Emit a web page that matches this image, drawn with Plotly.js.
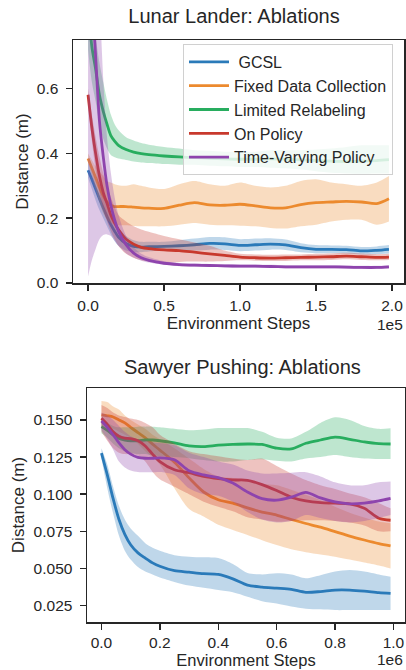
<!DOCTYPE html>
<html>
<head>
<meta charset="utf-8">
<script src="https://cdn.plot.ly/plotly-3.0.1.min.js"></script>
<style>html,body{margin:0;padding:0;background:#fff;}#chart{width:406px;height:670px;}</style>
</head>
<body>
<div id="chart"></div>
<script>
// ---------- Lunar Lander data ----------
const LL_X = [0, 2500, 5000, 7500, 10000, 12500, 15000, 17500, 20000, 25000, 30000, 35000, 40000, 50000, 60000, 70000, 80000, 90000, 100000, 110000, 120000, 130000, 140000, 150000, 160000, 170000, 180000, 190000, 198000];

const LL_GCSL = [0.348, 0.32, 0.29, 0.26, 0.232, 0.205, 0.18, 0.16, 0.142, 0.122, 0.113, 0.111, 0.112, 0.113, 0.115, 0.118, 0.122, 0.121, 0.116, 0.118, 0.12, 0.118, 0.109, 0.104, 0.104, 0.103, 0.099, 0.101, 0.104];
const LL_GCSL_LO = [0.325, 0.29, 0.255, 0.225, 0.2, 0.175, 0.15, 0.13, 0.115, 0.1, 0.095, 0.095, 0.097, 0.1, 0.1, 0.1, 0.103, 0.102, 0.098, 0.1, 0.103, 0.102, 0.095, 0.092, 0.092, 0.091, 0.088, 0.089, 0.091];
const LL_GCSL_HI = [0.37, 0.35, 0.325, 0.295, 0.265, 0.235, 0.21, 0.19, 0.17, 0.145, 0.132, 0.127, 0.127, 0.127, 0.132, 0.137, 0.142, 0.141, 0.135, 0.137, 0.138, 0.134, 0.123, 0.117, 0.116, 0.115, 0.111, 0.113, 0.117];

const LL_FIXED = [0.384, 0.355, 0.325, 0.295, 0.27, 0.25, 0.24, 0.236, 0.236, 0.236, 0.234, 0.232, 0.231, 0.23, 0.24, 0.248, 0.241, 0.24, 0.243, 0.238, 0.232, 0.232, 0.242, 0.248, 0.25, 0.252, 0.25, 0.245, 0.26];
const LL_FIXED_LO = [0.37, 0.33, 0.29, 0.25, 0.215, 0.195, 0.185, 0.18, 0.178, 0.178, 0.176, 0.175, 0.175, 0.175, 0.18, 0.185, 0.18, 0.178, 0.177, 0.175, 0.17, 0.168, 0.175, 0.18, 0.19, 0.195, 0.195, 0.18, 0.19];
const LL_FIXED_HI = [0.40, 0.38, 0.36, 0.345, 0.33, 0.315, 0.31, 0.305, 0.302, 0.30, 0.305, 0.30, 0.295, 0.29, 0.305, 0.315, 0.305, 0.30, 0.31, 0.30, 0.295, 0.30, 0.315, 0.32, 0.31, 0.305, 0.30, 0.31, 0.33];

const LL_LIMITED = [0.86, 0.73, 0.66, 0.58, 0.53, 0.49, 0.455, 0.438, 0.425, 0.412, 0.404, 0.399, 0.396, 0.392, 0.389, 0.387, 0.385, 0.383, 0.382, 0.382, 0.383, 0.382, 0.38, 0.378, 0.376, 0.375, 0.376, 0.378, 0.381];
const LL_LIMITED_LO = [0.72, 0.62, 0.56, 0.49, 0.445, 0.415, 0.395, 0.388, 0.384, 0.38, 0.375, 0.372, 0.37, 0.367, 0.365, 0.365, 0.362, 0.36, 0.358, 0.358, 0.356, 0.354, 0.35, 0.345, 0.34, 0.338, 0.337, 0.338, 0.338];
const LL_LIMITED_HI = [1.0, 0.85, 0.76, 0.68, 0.62, 0.565, 0.52, 0.49, 0.472, 0.45, 0.44, 0.432, 0.427, 0.42, 0.415, 0.41, 0.408, 0.405, 0.405, 0.405, 0.41, 0.41, 0.41, 0.412, 0.415, 0.42, 0.425, 0.425, 0.425];

const LL_ONPOL = [0.581, 0.48, 0.40, 0.33, 0.28, 0.245, 0.21, 0.185, 0.165, 0.135, 0.12, 0.11, 0.106, 0.102, 0.1, 0.095, 0.09, 0.085, 0.08, 0.078, 0.077, 0.078, 0.079, 0.08, 0.081, 0.083, 0.081, 0.079, 0.08];
const LL_ONPOL_LO = [0.56, 0.44, 0.35, 0.28, 0.23, 0.19, 0.16, 0.135, 0.115, 0.09, 0.078, 0.07, 0.066, 0.062, 0.065, 0.066, 0.066, 0.068, 0.07, 0.069, 0.068, 0.068, 0.07, 0.07, 0.071, 0.073, 0.071, 0.07, 0.071];
const LL_ONPOL_HI = [0.60, 0.52, 0.45, 0.39, 0.34, 0.30, 0.265, 0.235, 0.21, 0.19, 0.175, 0.165, 0.158, 0.145, 0.135, 0.125, 0.115, 0.10, 0.09, 0.088, 0.087, 0.088, 0.088, 0.09, 0.091, 0.093, 0.091, 0.089, 0.09];

const LL_TV = [1.1, 0.9, 0.70, 0.50, 0.39, 0.30, 0.24, 0.195, 0.16, 0.118, 0.092, 0.078, 0.07, 0.061, 0.057, 0.055, 0.054, 0.053, 0.052, 0.052, 0.051, 0.05, 0.05, 0.05, 0.05, 0.049, 0.048, 0.048, 0.05];
const LL_TV_LO = [0.02, 0.07, 0.105, 0.135, 0.148, 0.15, 0.145, 0.13, 0.115, 0.092, 0.078, 0.069, 0.063, 0.056, 0.052, 0.05, 0.049, 0.048, 0.047, 0.047, 0.046, 0.045, 0.045, 0.045, 0.045, 0.044, 0.043, 0.043, 0.045];
const LL_TV_HI = [2.2, 1.75, 1.3, 0.9, 0.63, 0.45, 0.34, 0.265, 0.21, 0.146, 0.11, 0.09, 0.08, 0.067, 0.062, 0.06, 0.059, 0.058, 0.057, 0.057, 0.056, 0.055, 0.055, 0.055, 0.055, 0.054, 0.053, 0.053, 0.055];

// ---------- Sawyer Pushing data ----------
const SP_X = [0, 20000, 40000, 60000, 80000, 100000, 125000, 150000, 175000, 200000, 250000, 300000, 350000, 400000, 450000, 500000, 550000, 600000, 650000, 700000, 750000, 800000, 850000, 900000, 950000, 990000];

const SP_GCSL = [0.1276, 0.113, 0.097, 0.083, 0.073, 0.066, 0.0605, 0.057, 0.0538, 0.0515, 0.0485, 0.0475, 0.0465, 0.046, 0.043, 0.0388, 0.0375, 0.0368, 0.036, 0.034, 0.0345, 0.0355, 0.0355, 0.0348, 0.0338, 0.0333];
const SP_GCSL_LO = [0.124, 0.104, 0.087, 0.072, 0.062, 0.056, 0.051, 0.048, 0.046, 0.044, 0.041, 0.0385, 0.037, 0.0355, 0.034, 0.031, 0.028, 0.0264, 0.0245, 0.023, 0.0225, 0.022, 0.022, 0.022, 0.022, 0.022];
const SP_GCSL_HI = [0.131, 0.12, 0.105, 0.092, 0.083, 0.077, 0.072, 0.067, 0.064, 0.062, 0.059, 0.058, 0.0575, 0.057, 0.053, 0.047, 0.046, 0.0468, 0.046, 0.0435, 0.0455, 0.048, 0.049, 0.048, 0.046, 0.0445];

const SP_FIXED = [0.1534, 0.1528, 0.152, 0.150, 0.148, 0.145, 0.1415, 0.138, 0.1337, 0.1297, 0.1215, 0.111, 0.1015, 0.0963, 0.094, 0.0908, 0.088, 0.086, 0.083, 0.0803, 0.0778, 0.0748, 0.0718, 0.0692, 0.0668, 0.0652];
const SP_FIXED_LO = [0.144, 0.1445, 0.144, 0.142, 0.14, 0.138, 0.134, 0.129, 0.125, 0.12, 0.104, 0.09, 0.085, 0.0795, 0.076, 0.0726, 0.069, 0.0658, 0.063, 0.061, 0.0595, 0.058, 0.056, 0.054, 0.052, 0.05];
const SP_FIXED_HI = [0.1628, 0.162, 0.159, 0.157, 0.153, 0.15, 0.147, 0.144, 0.14, 0.137, 0.131, 0.124, 0.117, 0.112, 0.111, 0.109, 0.107, 0.106, 0.103, 0.0996, 0.096, 0.0916, 0.0876, 0.0844, 0.0816, 0.0804];

const SP_LIMITED = [0.1455, 0.143, 0.14, 0.1375, 0.1365, 0.136, 0.136, 0.1365, 0.1365, 0.136, 0.1345, 0.1325, 0.132, 0.133, 0.1335, 0.1338, 0.1335, 0.131, 0.1305, 0.1343, 0.1365, 0.1384, 0.137, 0.1352, 0.134, 0.1338];
const SP_LIMITED_LO = [0.141, 0.138, 0.134, 0.131, 0.129, 0.128, 0.127, 0.127, 0.126, 0.1255, 0.125, 0.1242, 0.123, 0.122, 0.122, 0.123, 0.1235, 0.1225, 0.122, 0.124, 0.125, 0.1264, 0.125, 0.124, 0.1237, 0.1237];
const SP_LIMITED_HI = [0.15, 0.148, 0.146, 0.145, 0.145, 0.145, 0.1455, 0.1455, 0.1455, 0.145, 0.144, 0.143, 0.1435, 0.1445, 0.1445, 0.1445, 0.142, 0.138, 0.1375, 0.142, 0.148, 0.1518, 0.15, 0.146, 0.144, 0.1444];

const SP_ONPOL = [0.1511, 0.147, 0.142, 0.139, 0.1378, 0.1375, 0.136, 0.1325, 0.127, 0.122, 0.1165, 0.1145, 0.112, 0.1105, 0.1096, 0.1094, 0.1065, 0.1025, 0.098, 0.0955, 0.0943, 0.094, 0.0935, 0.0905, 0.0838, 0.0825];
const SP_ONPOL_LO = [0.142, 0.136, 0.131, 0.128, 0.127, 0.127, 0.126, 0.122, 0.115, 0.11, 0.105, 0.1, 0.095, 0.0915, 0.0885, 0.0845, 0.083, 0.0815, 0.082, 0.0825, 0.0825, 0.082, 0.081, 0.079, 0.075, 0.075];
const SP_ONPOL_HI = [0.16, 0.158, 0.155, 0.153, 0.152, 0.151, 0.15, 0.148, 0.145, 0.14, 0.134, 0.129, 0.127, 0.1255, 0.124, 0.123, 0.124, 0.119, 0.114, 0.1095, 0.106, 0.1035, 0.1005, 0.098, 0.094, 0.0905];

const SP_TV = [0.1493, 0.145, 0.14, 0.1345, 0.13, 0.127, 0.1248, 0.1242, 0.1242, 0.1245, 0.1232, 0.1158, 0.113, 0.1112, 0.1075, 0.1015, 0.097, 0.096, 0.098, 0.1013, 0.0975, 0.0948, 0.0935, 0.094, 0.0955, 0.0972];
const SP_TV_LO = [0.143, 0.137, 0.13, 0.122, 0.118, 0.116, 0.115, 0.1148, 0.1148, 0.115, 0.113, 0.104, 0.1, 0.099, 0.095, 0.088, 0.083, 0.081, 0.082, 0.086, 0.084, 0.082, 0.081, 0.082, 0.084, 0.086];
const SP_TV_HI = [0.155, 0.153, 0.15, 0.146, 0.142, 0.139, 0.137, 0.136, 0.135, 0.1345, 0.133, 0.128, 0.125, 0.122, 0.12, 0.116, 0.114, 0.114, 0.1145, 0.1148, 0.112, 0.108, 0.106, 0.106, 0.108, 0.1085];

// ---------- labels ----------
const SERIES_NAMES = ['\u00a0GCSL', 'Fixed Data Collection', 'Limited Relabeling', 'On Policy', 'Time-Varying Policy'];
const COLORS = ['42,122,185', '236,138,46', '40,173,95', '200,57,45', '142,68,173'];

const LL_XTICKS = [0, 50000, 100000, 150000, 200000];
const LL_XTICKTEXT = ['0.0', '0.5', '1.0', '1.5', '2.0'];
const LL_YTICKS = [0, 0.2, 0.4, 0.6];
const LL_YTICKTEXT = ['0.0', '0.2', '0.4', '0.6'];
const SP_XTICKS = [0, 200000, 400000, 600000, 800000, 1000000];
const SP_XTICKTEXT = ['0.0', '0.2', '0.4', '0.6', '0.8', '1.0'];
const SP_YTICKS = [0.025, 0.05, 0.075, 0.1, 0.125, 0.15];
const SP_YTICKTEXT = ['0.025', '0.050', '0.075', '0.100', '0.125', '0.150'];

const TITLE_LL = 'Lunar Lander: Ablations';
const TITLE_SP = 'Sawyer Pushing: Ablations';
const XLABEL = 'Environment Steps';
const YLABEL = 'Distance (m)';

// ---------- build ----------
const FONT = 'Liberation Sans, Arial, sans-serif';
const INK = '#262626';
const traces = [];

function addSeries(x, mean, lo, hi, i, xa, ya, legend) {
  const c = COLORS[i];
  traces.push({x: x, y: hi, mode: 'lines', line: {width: 0, shape: 'spline', smoothing: 0.8, color: 'rgba(' + c + ',0)'},
    showlegend: false, hoverinfo: 'skip', xaxis: xa, yaxis: ya});
  traces.push({x: x, y: lo, mode: 'lines', line: {width: 0, shape: 'spline', smoothing: 0.8, color: 'rgba(' + c + ',0)'},
    fill: 'tonexty', fillcolor: 'rgba(' + c + ',0.3)', showlegend: false, hoverinfo: 'skip', xaxis: xa, yaxis: ya});
  traces.push({x: x, y: mean, mode: 'lines', name: SERIES_NAMES[i], line: {width: 2.8, shape: 'spline', smoothing: 0.8, color: 'rgb(' + c + ')'},
    showlegend: legend, xaxis: xa, yaxis: ya});
}

const LL = [[LL_GCSL, LL_GCSL_LO, LL_GCSL_HI], [LL_FIXED, LL_FIXED_LO, LL_FIXED_HI], [LL_LIMITED, LL_LIMITED_LO, LL_LIMITED_HI],
            [LL_ONPOL, LL_ONPOL_LO, LL_ONPOL_HI], [LL_TV, LL_TV_LO, LL_TV_HI]];
const SP = [[SP_GCSL, SP_GCSL_LO, SP_GCSL_HI], [SP_FIXED, SP_FIXED_LO, SP_FIXED_HI], [SP_LIMITED, SP_LIMITED_LO, SP_LIMITED_HI],
            [SP_ONPOL, SP_ONPOL_LO, SP_ONPOL_HI], [SP_TV, SP_TV_LO, SP_TV_HI]];
LL.forEach((s, i) => addSeries(LL_X, s[0], s[1], s[2], i, 'x', 'y', true));
SP.forEach((s, i) => addSeries(SP_X, s[0], s[1], s[2], i, 'x2', 'y2', false));

const TICKFONT = {family: FONT, size: 15.5, color: INK};
const LABELFONT = {family: FONT, size: 17, color: INK};
function axis(extra) {
  return Object.assign({
    showgrid: false, zeroline: false, showline: true, mirror: true, linecolor: INK, linewidth: 1.5,
    ticks: 'outside', ticklen: 6, tickwidth: 1.5, tickcolor: INK, tickmode: 'array',
    tickfont: TICKFONT, automargin: false, fixedrange: true
  }, extra);
}

const W = 406, H = 670;
const layout = {
  width: W, height: H, margin: {l: 0, r: 0, t: 0, b: 0}, paper_bgcolor: '#fff', plot_bgcolor: '#fff',
  font: {family: FONT, color: INK},
  title: {text: TITLE_LL, font: {family: FONT, size: 20, color: INK}, x: 234 / W, xanchor: 'center', y: 1 - 16 / H, yanchor: 'middle', xref: 'paper', yref: 'paper'},
  xaxis: axis({domain: [73 / W, 404 / W], range: [-9900, 207900], tickvals: LL_XTICKS, ticktext: LL_XTICKTEXT, anchor: 'y',
    ticklabelstandoff: 2, title: {text: XLABEL, font: LABELFONT, standoff: 4}}),
  yaxis: axis({domain: [1 - 283 / H, 1 - 40 / H], range: [0, 0.75], tickvals: LL_YTICKS, ticktext: LL_YTICKTEXT, anchor: 'x',
    ticklabelstandoff: 4, title: {text: YLABEL, font: LABELFONT, standoff: 4}}),
  xaxis2: axis({domain: [87 / W, 405 / W], range: [-49500, 1039500], tickvals: SP_XTICKS, ticktext: SP_XTICKTEXT, anchor: 'y2',
    ticklabelstandoff: 0, title: {text: XLABEL, font: {family: FONT, size: 16.5, color: INK}, standoff: 2}}),
  yaxis2: axis({domain: [1 - 622 / H, 1 - 388 / H], range: [0.014, 0.1715], tickvals: SP_YTICKS, ticktext: SP_YTICKTEXT, anchor: 'x2',
    ticklabelstandoff: 4, title: {text: YLABEL, font: LABELFONT, standoff: 4}}),
  legend: {x: 183 / W, y: 1 - 44 / H, xanchor: 'left', yanchor: 'top', bgcolor: 'rgba(255,255,255,0.8)', bordercolor: '#d0d0d0', borderwidth: 1,
    font: {family: FONT, size: 16, color: INK}, tracegroupgap: 0, traceorder: 'normal', itemwidth: 40},
  annotations: [
    {text: TITLE_SP, xref: 'paper', yref: 'paper', x: 242 / W, y: 1 - 367 / H, xanchor: 'center', yanchor: 'middle', showarrow: false,
      font: {family: FONT, size: 20, color: INK}},
    {text: '1e5', xref: 'paper', yref: 'paper', x: 405 / W, y: 1 - 324 / H, xanchor: 'right', yanchor: 'middle', showarrow: false,
      font: TICKFONT},
    {text: '1e6', xref: 'paper', yref: 'paper', x: 405 / W, y: 0, xanchor: 'right', yanchor: 'bottom', showarrow: false,
      font: TICKFONT}
  ],
  showlegend: true
};

Plotly.newPlot('chart', traces, layout, {displayModeBar: false, staticPlot: true});
</script>
</body>
</html>
